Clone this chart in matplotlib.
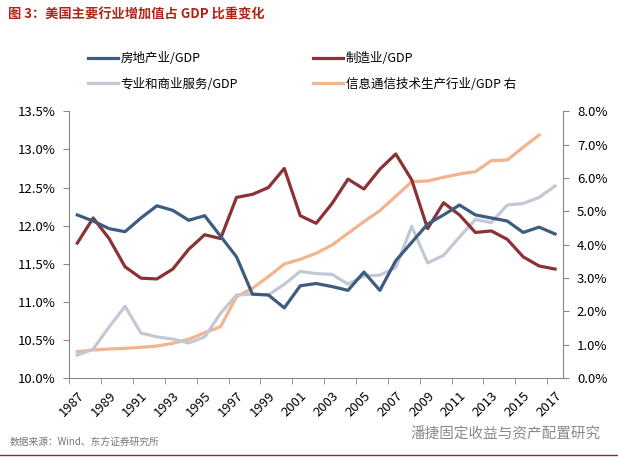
import numpy as np
import matplotlib
matplotlib.use('Agg')
import matplotlib.pyplot as plt
from matplotlib.ticker import FuncFormatter

plt.rcParams['font.family'] = ['Noto Sans CJK SC', 'DejaVu Sans']

years = list(range(1987, 2018))

real_estate = [12.14, 12.06, 11.96, 11.92, 12.10, 12.26, 12.20, 12.07, 12.13, 11.86,
               11.59, 11.10, 11.09, 10.92, 11.21, 11.24, 11.20, 11.15, 11.39, 11.15,
               11.54, 11.78, 12.02, 12.14, 12.27, 12.14, 12.10, 12.06, 11.91, 11.98, 11.89]
manufacturing = [11.77, 12.10, 11.83, 11.46, 11.31, 11.30, 11.43, 11.69, 11.88, 11.83,
                 12.37, 12.41, 12.50, 12.75, 12.13, 12.03, 12.29, 12.61, 12.48, 12.74,
                 12.94, 12.60, 11.96, 12.30, 12.14, 11.91, 11.93, 11.82, 11.59, 11.47, 11.43]
professional = [10.30, 10.38, 10.67, 10.94, 10.59, 10.54, 10.51, 10.46, 10.54, 10.85,
                11.09, 11.10, 11.09, 11.23, 11.40, 11.37, 11.36, 11.23, 11.34, 11.35,
                11.45, 11.99, 11.51, 11.61, 11.85, 12.08, 12.04, 12.27, 12.29, 12.37, 12.52]
ict = [0.79, 0.84, 0.87, 0.89, 0.92, 0.96, 1.04, 1.16, 1.36, 1.54,
       2.44, 2.69, 3.04, 3.42, 3.56, 3.74, 3.99, 4.34, 4.69, 5.02,
       5.45, 5.89, 5.91, 6.02, 6.12, 6.19, 6.52, 6.54, 6.92, 7.29, np.nan]

labels = ['房地产业/GDP', '制造业/GDP', '专业和商业服务/GDP', '信息通信技术生产行业/GDP 右']
colors = ['#3d5c80', '#8a3236', '#c2c8d4', '#f2b48e']

W, H = 618, 461
fig = plt.figure(figsize=(W / 100, H / 100), dpi=100)

ax = fig.add_axes([69.3 / W, 1 - 378 / H, (563 - 69.3) / W, (378 - 111.3) / H])
ax2 = ax.twinx()

lw = 2.3
l1, = ax.plot(years, real_estate, color=colors[0], lw=lw, zorder=4)
l2, = ax.plot(years, manufacturing, color=colors[1], lw=lw, zorder=3)
l3, = ax.plot(years, professional, color=colors[2], lw=lw, zorder=2)
l4, = ax2.plot(years, ict, color=colors[3], lw=lw)
ax.set_zorder(ax2.get_zorder() + 1)
ax.patch.set_visible(False)

ax.set_xlim(1986.5, 2017.5)
ax.set_ylim(10, 13.5)
ax.set_yticks(np.arange(10, 13.51, 0.5))
ax.yaxis.set_major_formatter(FuncFormatter(lambda v, p: f'{v:.1f}%'))
ax2.set_ylim(0, 8)
ax2.set_yticks(np.arange(0, 8.1, 1))
ax2.yaxis.set_major_formatter(FuncFormatter(lambda v, p: f'{v:.1f}%'))

ax.set_xticks(years[::2])
ax.set_xticklabels([str(y) for y in years[::2]], rotation=45, ha='right',
                   rotation_mode='anchor', fontsize=9.5)
ax.set_xticks(np.arange(1986.5, 2017, 2), minor=True)
ax.tick_params(axis='x', which='major', length=0, pad=8)
ax.tick_params(axis='x', which='minor', length=4, color='#888888', direction='out')

spine_c = '#888888'
for a in (ax, ax2):
    a.spines['top'].set_visible(False)
    for s in ('left', 'right', 'bottom'):
        a.spines[s].set_color(spine_c)
ax.spines['right'].set_visible(False)
ax2.spines['left'].set_visible(False)
ax2.spines['bottom'].set_visible(False)
ax.tick_params(axis='y', length=4, color=spine_c, labelsize=9.5, pad=6)
ax2.tick_params(axis='y', length=4, color=spine_c, labelsize=9.5, pad=6)

fig.legend([l1, l3, l2, l4], [labels[0], labels[2], labels[1], labels[3]],
           ncol=2, loc='upper left', bbox_to_anchor=(77 / W, 1 - 41 / H),
           frameon=False, fontsize=9, handlelength=2.4, handletextpad=0.2,
           columnspacing=6.0, labelspacing=1.0)

fig.text(8 / W, 1 - 15 / H, '图 3：美国主要行业增加值占 GDP 比重变化', fontsize=9.5,
         fontweight='bold', color='#b02418', va='center')
fig.text(10 / W, 1 - 442 / H, '数据来源：Wind、东方证券研究所', fontsize=7,
         color='#777777', va='center')
fig.text(410 / W, 1 - 434 / H, '潘捷固定收益与资产配置研究', fontsize=10.5,
         color='#8a8a8a', va='center')
fig.add_artist(plt.Line2D([0, 1], [1 - 455 / H, 1 - 455 / H], color='#8a2a2a', lw=1))

fig.savefig('out.png', dpi=100)
